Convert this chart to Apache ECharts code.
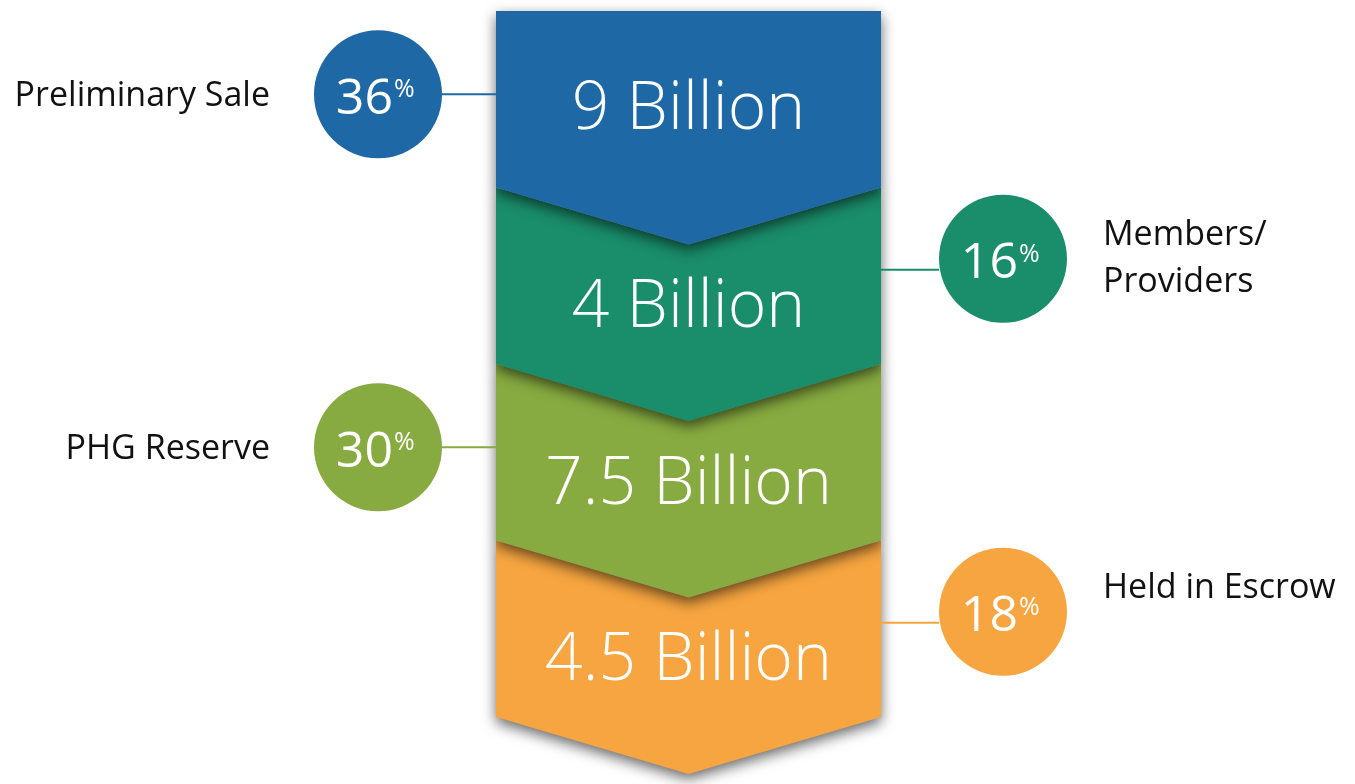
<!DOCTYPE html>
<html>
<head>
<meta charset="utf-8">
<script src="https://cdn.jsdelivr.net/npm/echarts@6/dist/echarts.min.js"></script>
<style>
html,body{margin:0;padding:0;background:#fff;}
#chart{width:1355px;height:784px;}
</style>
</head>
<body>
<div id="chart"></div>
<script>
// ---- data ----
const categories = ['Preliminary Sale', 'Members/\nProviders', 'PHG Reserve', 'Held in Escrow'];
const amounts = [9, 4, 7.5, 4.5];          // billions
const shares = [36, 16, 30, 18];           // percent

// ---- style ----
const colors = ['#1f68a6', '#1a8d6a', '#87ab41', '#f6a540'];
const DEPTH = 57;        // chevron depth (px)
const R = 64;            // circle radius (px)
const FONT = '"Open Sans", "Noto Sans", sans-serif';
const THIN = '"Open Sans Light", "Roboto Light", "Open Sans", sans-serif';

const chart = echarts.init(document.getElementById('chart'));

function renderItem(params, api) {
  const i = api.value(0);
  const p0 = api.coord([0, i]);
  const p1 = api.coord([1, i]);
  const h = api.size([0, 1])[1];
  const xl = p0[0], xr = p1[0], xm = (xl + xr) / 2, cy = p0[1];
  const top = cy - h / 2, bot = cy + h / 2;
  let pts;
  if (i === 0) {
    pts = [[xl, top], [xr, top], [xr, bot], [xm, bot + DEPTH], [xl, bot]];
  } else {
    pts = [[xl, top], [xm, top + DEPTH], [xr, top], [xr, bot], [xm, bot + DEPTH], [xl, bot]];
  }
  const color = colors[i];
  const left = i % 2 === 0;
  const circY = left ? cy - 5 : cy - 17;
  const lineY = left ? circY : circY + 11;
  const circX = left ? xl - 54 - R : xr + 58 + R;
  const children = [
    {
      type: 'polygon', z2: 10 - i,
      shape: { points: pts },
      style: {
        fill: color,
        shadowBlur: 14, shadowOffsetY: 5, shadowColor: 'rgba(0,0,0,0.6)'
      }
    },
    {
      type: 'text', z2: 30,
      style: {
        x: xm, y: cy + (i > 0 ? DEPTH / 2 - 4 : 3) + 10,
        text: api.value(1) + ' Billion',
        fill: '#ffffff', font: '300 66px ' + THIN,
        align: 'center', verticalAlign: 'middle'
      }
    },
    {
      type: 'line', z2: 30,
      shape: left ? { x1: circX + R, y1: lineY, x2: xl, y2: lineY }
                  : { x1: xr, y1: lineY, x2: circX - R, y2: lineY },
      style: { stroke: color, lineWidth: 2 }
    },
    {
      type: 'circle', z2: 31,
      shape: { cx: circX, cy: circY, r: R },
      style: { fill: color }
    },
    {
      type: 'text', z2: 32,
      style: {
        x: circX + 15, y: circY + 5,
        text: String(api.value(2)),
        fill: '#ffffff', font: '50px ' + FONT,
        align: 'right', verticalAlign: 'middle'
      }
    },
    {
      type: 'text', z2: 32,
      style: {
        x: circX + 16, y: circY - 4,
        text: '%',
        fill: '#ffffff', font: '25px ' + FONT,
        align: 'left', verticalAlign: 'middle'
      }
    },
    {
      type: 'text', z2: 32,
      style: {
        x: left ? circX - R - 44 : circX + R + 36,
        y: left ? circY + 2 : circY - R + 17,
        text: categories[i],
        fill: '#111111', font: '34px ' + FONT,
        lineHeight: 47,
        align: left ? 'right' : 'left', verticalAlign: left ? 'middle' : 'top'
      }
    }
  ];
  return { type: 'group', children: children };
}

chart.setOption({
  animation: false,
  backgroundColor: '#ffffff',
  grid: { left: 496, top: 11, width: 385, height: 706 },
  xAxis: { type: 'value', min: 0, max: 1, show: false },
  yAxis: { type: 'category', data: categories, inverse: true, show: false },
  series: [{
    type: 'custom',
    renderItem: renderItem,
    clip: false,
    encode: { y: 0 },
    data: categories.map((c, i) => [i, amounts[i], shares[i]])
  }]
});
</script>
</body>
</html>
